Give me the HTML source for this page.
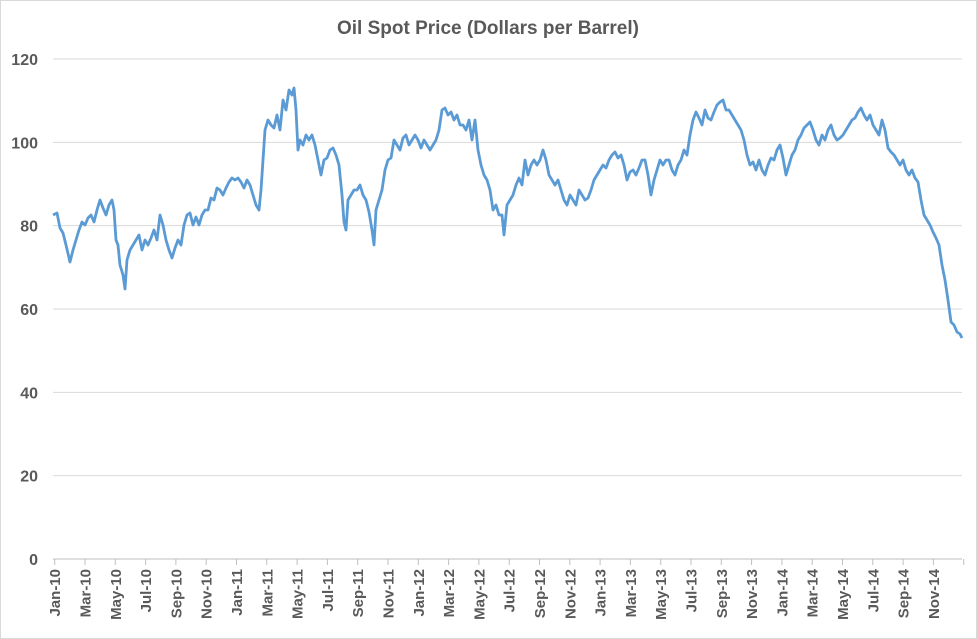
<!DOCTYPE html>
<html><head><meta charset="utf-8"><style>
html,body{margin:0;padding:0;background:#fff;}
svg{display:block;font-family:"Liberation Sans",Arial,sans-serif;}
</style></head><body>
<svg id="c" width="977" height="639" viewBox="0 0 977 639">
<rect x="0.5" y="0.5" width="976" height="638" fill="#fff" stroke="#d9d9d9"/>
<text x="488" y="34" text-anchor="middle" font-size="19" font-weight="bold" fill="#595959">Oil Spot Price (Dollars per Barrel)</text>
<g id="grid"></g>
<g id="ticks"></g>
<polyline id="line" fill="none" stroke="#5b9bd5" stroke-width="2.8" stroke-linejoin="round" points=""/>
</svg>
<script>
var ns="http://www.w3.org/2000/svg",svg=document.getElementById('c');
function el(t,a,txt,p){var e=document.createElementNS(ns,t);for(var k in a)e.setAttribute(k,a[k]);if(txt!=null)e.textContent=txt;(p||svg).appendChild(e);return e;}
var g=document.getElementById('grid');
for(var v=0;v<=120;v+=20){var y=559-v*4.1667;
 el('line',{x1:53,x2:962,y1:y,y2:y,stroke:v==0?'#bfbfbf':'#d9d9d9','stroke-width':1},null,g);
 el('text',{x:38,y:y+6,'text-anchor':'end','font-size':16,fill:'#595959','font-weight':'bold'},String(v),g);}
var t=document.getElementById('ticks');
var names=['Jan','Mar','May','Jul','Sep','Nov'];
for(var i=0;i<31;i++){var x=54.7+i*30.3;
 el('line',{x1:x,x2:x,y1:559,y2:565,stroke:'#bfbfbf'},null,t);
 if(i<30){var lab=names[i%6]+'-'+(10+Math.floor(i/6));
 el('text',{x:0,y:0,transform:'translate('+(x+5.5)+',569) rotate(-90)','text-anchor':'end','font-size':15,fill:'#595959','font-weight':'bold'},lab,t);}}
var p=[53,215,57,213,60,228,63,233,66,245,70,262,73,250,76,240,79,230,82,222,85,225,88,218,91,215,94,222,97,210,100,200,103,208,106,215,109,205,112,200,114,210,116,240,118,245,120,265,123,275,125,289,127,260,130,250,133,245,136,240,139,235,142,250,145,240,148,245,151,238,154,230,157,240,160,215,163,225,166,240,169,250,172,258,175,248,178,240,181,245,184,225,187,215,190,213,193,225,196,217,199,225,202,215,205,210,208,210,211,198,214,200,217,188,220,190,223,195,226,188,229,182,232,178,235,180,238,178,241,182,244,188,247,180,250,185,253,195,256,205,259,210,261,190,263,160,265,130,268,120,271,125,274,128,277,115,280,130,283,100,286,110,289,90,292,95,294,88,296,110,298,150,300,140,303,145,306,135,309,140,312,135,315,145,318,160,321,175,324,160,327,158,330,150,333,148,336,155,339,165,342,195,344,222,346,230,348,200,351,195,354,190,357,190,360,185,363,195,366,200,369,212,372,230,374,245,376,210,379,200,382,190,385,170,388,160,391,158,394,140,397,145,400,150,403,138,406,135,409,145,412,140,415,135,418,140,421,148,424,140,427,145,430,150,433,145,436,140,439,130,442,110,445,108,448,115,451,112,454,120,457,115,460,125,463,125,466,130,469,120,472,140,475,120,478,150,481,165,484,175,487,180,490,190,493,210,496,205,499,215,502,215,504,235,507,205,510,200,513,195,516,185,519,178,522,185,525,160,528,175,531,165,534,160,537,165,540,160,543,150,546,160,549,175,552,180,555,185,558,180,561,190,564,200,567,205,570,195,573,200,576,205,579,190,582,195,585,200,588,198,591,190,594,180,597,175,600,170,603,165,606,168,609,160,612,155,615,152,618,158,621,155,624,165,627,180,630,172,633,170,636,175,639,168,642,160,645,160,648,175,651,195,654,180,657,170,660,160,663,165,666,160,669,160,672,170,675,175,678,165,681,160,684,150,687,155,690,135,693,120,696,112,699,118,702,125,705,110,708,118,711,120,714,112,717,105,720,102,723,100,726,110,729,110,732,115,735,120,738,125,741,130,744,140,747,155,750,165,753,162,756,170,759,160,762,170,765,175,768,165,771,158,774,160,777,150,780,145,783,158,786,175,789,165,792,155,795,150,798,140,801,135,804,128,807,125,810,122,813,130,816,140,819,145,822,135,825,140,828,130,831,125,834,135,837,140,840,138,843,135,846,130,849,125,852,120,855,118,858,112,861,108,864,115,867,120,870,115,873,125,876,130,879,135,882,120,885,130,888,148,891,152,894,155,897,160,900,165,903,160,906,170,909,175,912,170,915,178,918,182,921,200,924,215,927,220,930,225,933,232,936,238,939,245,942,265,945,280,948,300,951,322,954,325,957,332,960,334,962,338];
var s=[];for(var i=0;i<p.length;i+=2)s.push(p[i]+','+p[i+1]);
document.getElementById('line').setAttribute('points',s.join(' '));
</script>
</body></html>
